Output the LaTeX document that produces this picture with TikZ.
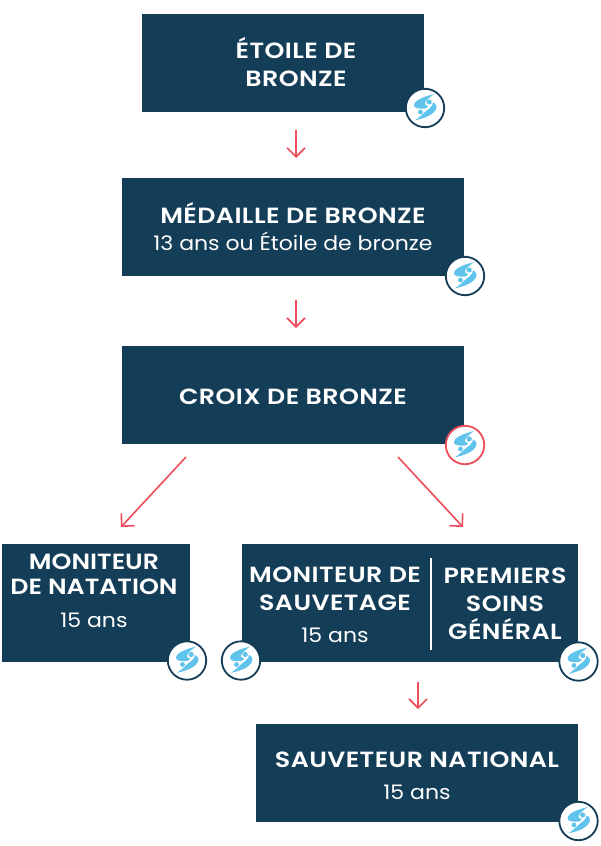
\documentclass[tikz,border=0pt]{standalone}
\usepackage{fontspec}
\setmainfont{Poppins}
\usetikzlibrary{arrows.meta}
\definecolor{navy}{HTML}{143D57}
\definecolor{coral}{HTML}{EE4D5A}
\definecolor{sky}{HTML}{5FC3EC}
\newfontfamily\boldf[FakeStretch=1.15,LetterSpace=2]{Poppins SemiBold}
\newfontfamily\boldtight[FakeStretch=1.15,LetterSpace=0]{Poppins SemiBold}
\newfontfamily\regf[FakeStretch=1.1]{Poppins}
\tikzset{
  x=1pt,y=-1pt,
  txt/.style={text=white,align=center,font=\boldf\fontsize{22}{28}\selectfont,inner sep=0},
  txttight/.style={text=white,align=center,font=\boldtight\fontsize{22}{25.5}\selectfont,inner sep=0},
  sub/.style={text=white,align=center,font=\regf\fontsize{20}{24}\selectfont,inner sep=0},
  arr/.style={draw=coral,line width=1.6pt,-{Straight Barb[length=9pt,width=20pt,angle'=90,line width=1.6pt]}},
  badge/.pic={
    \fill[white] (0,0) circle[radius=19.2];
    \draw[#1,line width=1.8pt] (0,0) circle[radius=19.2];
    \fill[sky] (9,-14) .. controls (2,-12) and (-10,-9) .. (-11,-3) .. controls (-11.5,0.5) and (-5,1) .. (0,0.5) .. controls (2,0.2) and (3,-1) .. (3,-2.3) .. controls (1,-2) and (-0.5,-3) .. (0,-5) .. controls (0.5,-7) and (4,-10.5) .. (9,-14) -- cycle;
    \fill[sky] (-10,12.3) .. controls (-2,10.5) and (11,7) .. (11.5,-1.5) .. controls (11.5,-3.5) and (9.5,-5) .. (8,-5.5) .. controls (8,-2) and (4,1) .. (1,3) .. controls (-1,5) and (-4,8) .. (-10,12.3) -- cycle;
    \fill[sky] (4.2,-6) circle[radius=2.6];
    \fill[sky] (-4.5,4) circle[radius=2.4];
  }
}
\begin{document}
\begin{tikzpicture}
\useasboundingbox (0,0) rectangle (600,846);
\fill[white] (0,0) rectangle (600,846);
\fill[navy] (142,14) rectangle (424,112);
\fill[navy] (122,178) rectangle (464,276);
\fill[navy] (122,346) rectangle (464,444);
\fill[navy] (2,544) rectangle (190,662);
\fill[navy] (242,544) rectangle (578,662);
\fill[navy] (256,724) rectangle (578,822);
\node[txt] (etoile) at (296,62) {ÉTOILE DE\\BRONZE};
\node[txt] (medaille) at (293,213) {MÉDAILLE DE BRONZE};
\node[sub] (medsub) at (293,241.5) {13 ans ou Étoile de bronze};
\node[txt] (croix) at (293,397) {CROIX DE BRONZE};
\node[txttight] (monnat) at (94,574.5) {MONITEUR\\DE NATATION};
\node[sub] (monnatsub) at (94,620) {15 ans};
\node[txt] (monsauv) at (335,589) {MONITEUR DE\\SAUVETAGE};
\node[sub] (monsauvsub) at (335,635) {15 ans};
\node[txt] (premiers) at (505,604) {PREMIERS\\SOINS\\GÉNÉRAL};
\node[txt] (sauveteur) at (417,760) {SAUVETEUR NATIONAL};
\node[sub] (sauvsub) at (417,792) {15 ans};
\coordinate (divtop) at (431,558);
\coordinate (divbot) at (431,650);
\draw[white,line width=1.6pt] (divtop) -- (divbot);
\coordinate (a1s) at (296,130); \coordinate (a1e) at (296,158);
\coordinate (a2s) at (296,300); \coordinate (a2e) at (296,328);
\coordinate (a3s) at (186,457); \coordinate (a3e) at (121,527);
\coordinate (a4s) at (398,457); \coordinate (a4e) at (463,527);
\coordinate (a5s) at (418,682); \coordinate (a5e) at (418,709);
\draw[arr] (a1s) -- (a1e);
\draw[arr] (a2s) -- (a2e);
\draw[arr] (a3s) -- (a3e);
\draw[arr] (a4s) -- (a4e);
\draw[arr] (a5s) -- (a5e);
\pic at (425,108) {badge=navy};
\pic at (465,276) {badge=navy};
\pic at (465,445) {badge=coral};
\pic at (187,660.5) {badge=navy};
\pic at (241,660.5) {badge=navy};
\pic at (578.5,661.5) {badge=navy};
\pic at (578.5,821) {badge=navy};
\end{tikzpicture}
\end{document}
